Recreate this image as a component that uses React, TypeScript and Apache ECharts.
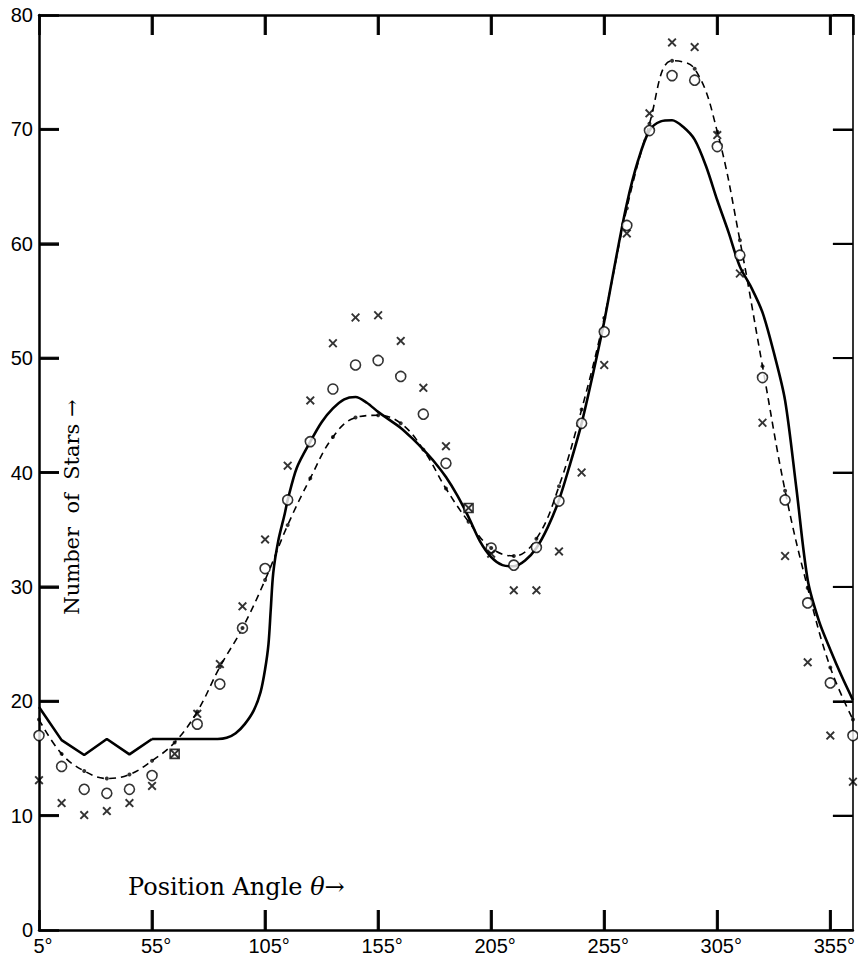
import React, { useEffect, useRef } from "react";
import * as echarts from "echarts";

// Position angles (degrees) of the sampled points (10° steps, 365° repeats 5°)
const angles = [5, 15, 25, 35, 45, 55, 65, 75, 85, 95, 105, 115, 125, 135, 145, 155, 165, 175, 185, 195, 205, 215, 225, 235, 245, 255, 265, 275, 285, 295, 305, 315, 325, 335, 345, 355, 365];

// Open circles
const circleCounts = [17.0, 14.3, 12.3, 11.95, 12.3, 13.5, null, 18.0, 21.5, 26.4, 31.6, 37.6, 42.7, 47.3, 49.4, 49.8, 48.4, 45.1, 40.8, null, 33.4, 31.9, 33.45, 37.5, 44.3, 52.3, 61.6, 69.9, 74.7, 74.3, 68.5, 59.0, 48.3, 37.6, 28.6, 21.6, 17.0];

// Crosses
const crossCounts = [13.1, 11.1, 10.05, 10.4, 11.1, 12.6, 15.4, 18.9, 23.25, 28.3, 34.15, 40.6, 46.3, 51.3, 53.55, 53.75, 51.5, 47.4, 42.3, 36.9, 32.9, 29.7, 29.7, 33.1, 40.0, 49.4, 60.9, 71.4, 77.6, 77.2, 69.5, 57.4, 44.35, 32.7, 23.4, 17.0, 12.96];

// Dotted points of the dashed curve
const dashedCounts = [18.4, 15.4, 13.9, 13.25, 13.6, 14.8, 16.4, 19.1, 23.0, 26.4, 30.6, 35.4, 39.5, 43.1, 44.8, 45.0, 44.3, 42.0, 38.6, 35.7, 33.4, 32.7, 34.2, 38.8, 45.5, 53.5, 63.1, 70.5, 76.0, 75.3, 69.8, 60.3, 49.3, 38.4, 29.9, 22.95, 18.4];

// Boxed points (circle and cross coincide)
const boxedAngles = [65, 195];
const boxedCounts = [15.4, 36.9];

// Solid curve: straight-segment part
const solidJaggedAngles = [5, 15, 25, 35, 45, 55];
const solidJaggedCounts = [19.5, 16.6, 15.3, 16.7, 15.35, 16.7];

// Solid curve: smooth part
const solidSmoothAngles = [55, 65, 75, 84, 88, 92, 96, 100, 103, 105, 106.5, 107.5, 108.6, 110.8, 113.7, 115, 119, 125, 130, 135, 140, 145, 150, 155, 160, 165, 170, 175, 180, 185, 190, 195, 200, 205, 210, 215, 220, 225, 230, 235, 240, 245, 250, 255, 260, 265, 270, 275, 280, 285, 290, 295, 300, 305, 310, 315, 320, 325, 330, 335, 340, 345, 350, 355, 360, 365];
const solidSmoothCounts = [16.7, 16.7, 16.7, 16.7, 16.8, 17.2, 18.0, 19.2, 20.8, 22.8, 25.0, 28.0, 31.2, 34.0, 36.4, 37.6, 40.4, 42.7, 44.4, 45.6, 46.4, 46.6, 46.1, 45.3, 44.6, 43.9, 43.0, 42.0, 40.9, 39.6, 38.0, 36.1, 34.0, 32.6, 31.9, 31.8, 32.3, 33.4, 35.2, 37.6, 40.8, 44.3, 48.6, 53.2, 58.5, 63.5, 67.3, 69.9, 70.7, 70.8, 70.2, 69.1, 66.8, 63.8, 61.0, 58.0, 56.2, 54.0, 50.5, 46.3, 38.6, 30.6, 27.0, 24.5, 22.2, 20.1];

// Tick positions
const xTickValues = [55, 105, 155, 205, 255, 305, 355];
const yTickValues = [10, 20, 30, 40, 50, 60, 70];
const xMin = 5;
const xMax = 365;
const yMin = 0;
const yMax = 80;

const xAxisName = "Position Angle {i|θ}→";
const yAxisName = "Number  of  Stars →";

const tickFont = "'Liberation Sans', Arimo, sans-serif";
const serifFont = "'DejaVu Serif', 'Liberation Serif', serif";

const crossPath = "path://M0,1.5 L1.5,0 L5,3.5 L8.5,0 L10,1.5 L6.5,5 L10,8.5 L8.5,10 L5,6.5 L1.5,10 L0,8.5 L3.5,5 Z";

const pairs = (xs: number[], ys: (number | null)[]) =>
  xs.map((x, i) => [x, ys[i]]).filter((p) => p[1] !== null);

const mkLine = (w: number) => ({ show: true, onZero: false, lineStyle: { color: "#000", width: w } });
const mkTick = (w: number) => ({ show: true, inside: true, length: 20, lineStyle: { color: "#000", width: w, opacity: 1 } });

export default function App() {
  const ref = useRef<HTMLDivElement>(null);

  useEffect(() => {
    if (!ref.current) return;
    const chart = echarts.init(ref.current, undefined, { renderer: "svg" });

    chart.setOption({
      animation: false,
      backgroundColor: "#fff",
      grid: { left: 39, right: 3, top: 15, bottom: 30 },
      xAxis: [
        {
          type: "value",
          position: "bottom",
          min: xMin,
          max: xMax,
          interval: 50,
          axisLine: mkLine(2.5),
          axisTick: mkTick(2.5),
          splitLine: { show: false },
          axisLabel: {
            showMaxLabel: false,
            formatter: (v: number) => `${v}°`,
            color: "#000",
            fontSize: 20,
            fontFamily: tickFont,
            margin: 6,
            padding: [0, 0, 0, 8],
          },
        },
        {
          type: "value",
          position: "top",
          min: xMin,
          max: xMax,
          interval: 50,
          axisLine: mkLine(2.5),
          axisTick: mkTick(2.5),
          splitLine: { show: false },
          axisLabel: { show: false },
        },
      ],
      yAxis: [
        {
          type: "value",
          position: "left",
          min: yMin,
          max: yMax,
          interval: 10,
          axisLine: mkLine(2.5),
          axisTick: mkTick(2.5),
          splitLine: { show: false },
          axisLabel: {
            color: "#000",
            fontSize: 20,
            fontFamily: tickFont,
            margin: 6,
          },
        },
        {
          type: "value",
          position: "right",
          min: yMin,
          max: yMax,
          interval: 10,
          axisLine: mkLine(1.6),
          axisTick: mkTick(2),
          splitLine: { show: false },
          axisLabel: { show: false },
        },
      ],
      series: [
        {
          type: "line",
          data: pairs(solidJaggedAngles, solidJaggedCounts),
          showSymbol: false,
          smooth: false,
          lineStyle: { color: "#000", width: 2.6 },
          z: 2,
        },
        {
          type: "line",
          data: pairs(solidSmoothAngles, solidSmoothCounts),
          showSymbol: false,
          smooth: 0.3,
          lineStyle: { color: "#000", width: 2.6 },
          z: 2,
        },
        {
          type: "line",
          data: pairs(angles, dashedCounts),
          showSymbol: false,
          smooth: 0.4,
          lineStyle: { color: "#000", width: 1.6, type: [7, 5] },
          z: 2,
        },
        {
          type: "scatter",
          data: pairs(angles, circleCounts),
          symbol: "circle",
          symbolSize: 10,
          itemStyle: { color: "#fff", borderColor: "#000", borderWidth: 1.6 },
          z: 3,
        },
        {
          type: "scatter",
          data: pairs(boxedAngles, boxedCounts),
          symbol: "rect",
          symbolSize: 9,
          itemStyle: { color: "#fff", borderColor: "#000", borderWidth: 1.6 },
          z: 3,
        },
        {
          type: "scatter",
          data: pairs(angles, crossCounts),
          symbol: crossPath,
          symbolSize: 9,
          itemStyle: { color: "#000" },
          z: 4,
        },
        {
          type: "scatter",
          data: pairs(angles, dashedCounts),
          symbol: "circle",
          symbolSize: 4,
          itemStyle: { color: "#000" },
          z: 5,
        },
        {
          type: "scatter",
          data: xTickValues.map((v) => [v, yMin]),
          symbol: "rect",
          symbolSize: [3, 20],
          symbolOffset: [0, -10],
          itemStyle: { color: "#000" },
          silent: true,
          clip: false,
          z: 6,
        },
        {
          type: "scatter",
          data: xTickValues.map((v) => [v, yMax]),
          symbol: "rect",
          symbolSize: [3, 20],
          symbolOffset: [0, 10],
          itemStyle: { color: "#000" },
          silent: true,
          clip: false,
          z: 6,
        },
        {
          type: "scatter",
          data: yTickValues.map((v) => [xMin, v]),
          symbol: "rect",
          symbolSize: [20, 3],
          symbolOffset: [10, 0],
          itemStyle: { color: "#000" },
          silent: true,
          clip: false,
          z: 6,
        },
        {
          type: "scatter",
          data: yTickValues.map((v) => [xMax, v]),
          symbol: "rect",
          symbolSize: [20, 2],
          symbolOffset: [-10, 0],
          itemStyle: { color: "#000" },
          silent: true,
          clip: false,
          z: 6,
        },
      ],
      graphic: [
        {
          type: "text",
          x: 128,
          y: 887,
          style: {
            text: xAxisName,
            fill: "#000",
            font: `24px ${serifFont}`,
            align: "left",
            verticalAlign: "middle",
            rich: {
              i: { fontStyle: "italic", fontSize: 24, fontFamily: serifFont, fill: "#000" },
            },
          },
        },
        {
          type: "text",
          x: 72,
          y: 507,
          rotation: Math.PI / 2,
          style: {
            text: yAxisName,
            fill: "#000",
            font: `21px ${serifFont}`,
            align: "center",
            verticalAlign: "middle",
          },
        },
      ],
    });

    return () => chart.dispose();
  }, []);

  return (
    <div
      ref={ref}
      style={{ position: "fixed", left: 0, top: 0, width: 858, height: 960, background: "#fff" }}
    />
  );
}
